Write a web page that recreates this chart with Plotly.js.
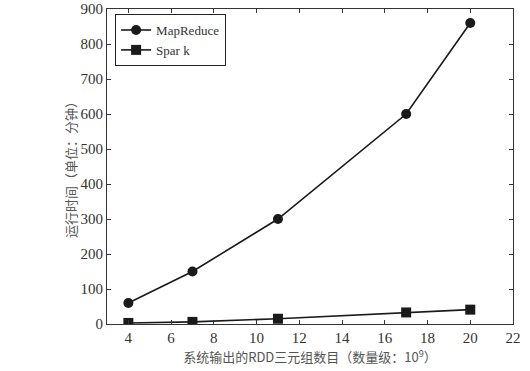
<!DOCTYPE html>
<html>
<head>
<meta charset="utf-8">
<script src="https://cdn.plot.ly/plotly-3.0.1.min.js"></script>
<style>html,body{margin:0;padding:0;background:#fff;}#chart{width:530px;height:371px;}</style>
</head>
<body>
<div id="chart"></div>
<script>
const xValues = [4, 7, 11, 17, 20];
const mapReduceTimes = [60, 150, 300, 600, 860];
const sparkTimes = [3, 6, 15, 33, 41];
const seriesNames = ["MapReduce", "Spar k"];
const xTicks = [4, 6, 8, 10, 12, 14, 16, 18, 20, 22];
const yTicks = [0, 100, 200, 300, 400, 500, 600, 700, 800, 900];

const serif = "Liberation Serif";
const cjk = "Noto Sans CJK SC";

const traces = [
  {x: xValues, y: mapReduceTimes, name: seriesNames[0], mode: "lines+markers",
   line: {color: "#1a1a1a", width: 1.6}, marker: {symbol: "circle", size: 10, color: "#1a1a1a"}},
  {x: xValues, y: sparkTimes, name: seriesNames[1], mode: "lines+markers",
   line: {color: "#1a1a1a", width: 1.6}, marker: {symbol: "square", size: 10, color: "#1a1a1a"}}
];

const layout = {
  width: 530, height: 371,
  font: {family: serif, size: 15, color: "#333"},
  margin: {l: 107, r: 17, t: 9, b: 47},
  paper_bgcolor: "#fff", plot_bgcolor: "#fff",
  showlegend: true,
  legend: {x: 0.02, y: 0.984, xanchor: "left", yanchor: "top",
    bordercolor: "#222", borderwidth: 1, bgcolor: "#fff",
    font: {family: serif, size: 13, color: "#333"}, tracegroupgap: 0},
  xaxis: {range: [3, 22], tickvals: xTicks, ticks: "inside", ticklen: 4, tickcolor: "#333",
    showline: true, linecolor: "#333", linewidth: 1, mirror: "ticks", showgrid: false, zeroline: false,
    tickfont: {family: serif, size: 15, color: "#333"},
    title: {text: "系统输出的RDD三元组数目（数量级：10<sup>9</sup>）", standoff: 5,
      font: {family: cjk, size: 13, color: "#555"}}},
  yaxis: {range: [0, 900], tickvals: yTicks, ticks: "inside", ticklen: 4, tickcolor: "#333",
    showline: true, linecolor: "#333", linewidth: 1, mirror: "ticks", showgrid: false, zeroline: false,
    tickfont: {family: serif, size: 15, color: "#333"},
    title: {text: "运行时间（单位：分钟）", standoff: 0,
      font: {family: cjk, size: 13, color: "#555"}}}
};

Plotly.newPlot("chart", traces, layout, {displayModeBar: false, staticPlot: true});
</script>
</body>
</html>
